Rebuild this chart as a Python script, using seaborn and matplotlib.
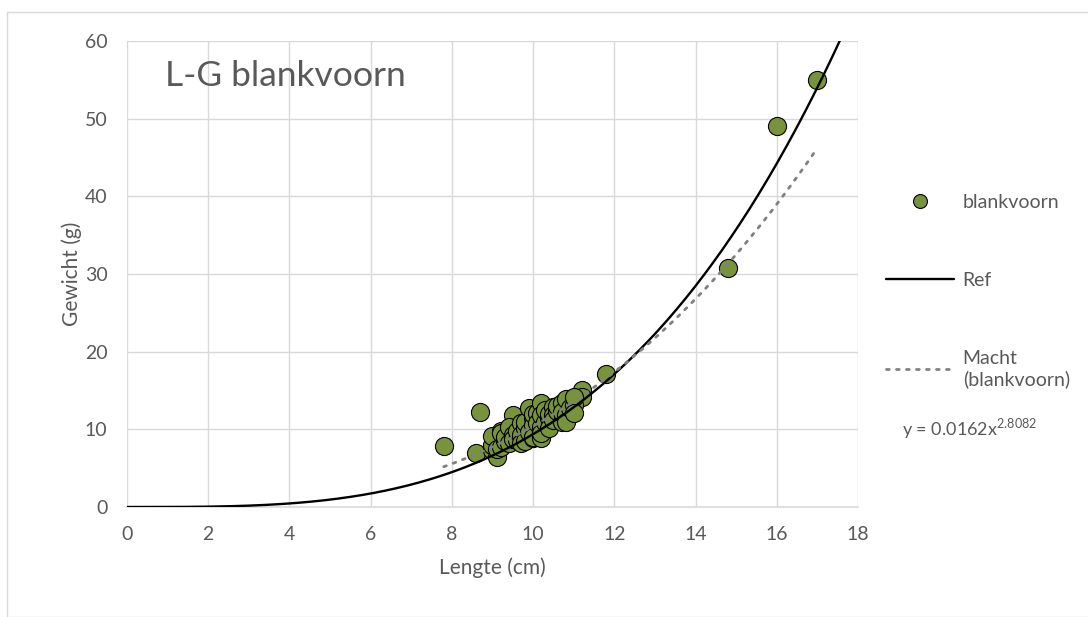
import numpy as np
import pandas as pd
import matplotlib
matplotlib.use("Agg")
import matplotlib.pyplot as plt
import seaborn as sns
from matplotlib.lines import Line2D
from matplotlib.patches import Rectangle

# ---- data ----
lengte = [7.8, 8.6, 8.7, 9.5, 11.8, 11.2, 11.2, 14.8, 16.0, 17.0,
          9.0, 9.0, 9.0, 9.1, 9.1, 9.2, 9.2, 9.2, 9.3, 9.3,
          9.4, 9.4, 9.5, 9.5, 9.6, 9.6, 9.7, 9.7, 9.7, 9.8,
          9.8, 9.8, 9.9, 9.9, 10.0, 10.0, 10.0, 10.0, 10.0, 10.1,
          10.1, 10.2, 10.2, 10.2, 10.2, 10.2, 10.3, 10.3, 10.4, 10.4,
          10.4, 10.5, 10.5, 10.5, 10.6, 10.6, 10.7, 10.7, 10.7, 10.8,
          10.8, 10.8, 10.9, 11.0, 11.0, 11.0]
gewicht = [7.9, 6.9, 12.2, 11.9, 17.1, 15.1, 14.1, 30.8, 49.0, 55.0,
           7.3, 8.0, 9.2, 6.4, 7.5, 7.7, 9.8, 9.5, 8.5, 9.0,
           10.3, 8.2, 9.3, 8.8, 8.6, 9.8, 10.8, 9.3, 8.2, 10.2,
           11.0, 8.5, 12.7, 9.6, 11.4, 8.9, 10.5, 12.0, 9.0, 12.1,
           10.8, 13.4, 10.3, 8.9, 11.8, 9.5, 11.0, 12.5, 11.4, 10.2,
           12.0, 12.9, 11.8, 11.2, 12.4, 13.0, 13.4, 10.9, 12.2, 13.9,
           11.8, 10.9, 12.8, 13.1, 14.2, 12.1]

ref_a, ref_b = 0.0047, 3.3          # reference length-weight relation
fit_a, fit_b = 0.0162, 2.8082       # power trendline (from chart label)

x_ticks = [0, 2, 4, 6, 8, 10, 12, 14, 16, 18]
y_ticks = [0, 10, 20, 30, 40, 50, 60]

df = pd.DataFrame({"Lengte": lengte, "Gewicht": gewicht})

# ---- style ----
sns.set_theme(style="white")
plt.rcParams["font.family"] = ["Lato", "DejaVu Sans"]
txt = "#595959"
grid = "#D9D9D9"
green = "#77933C"
dots = (0, (1, 2.6))

fig = plt.figure(figsize=(10.88, 6.17), dpi=100)
ax = fig.add_axes([127/1088, 1-507/617, (858-127)/1088, (507-41)/617])

sns.scatterplot(data=df, x="Lengte", y="Gewicht", ax=ax, color=green,
                edgecolor="black", linewidth=0.8, s=170, zorder=3,
                legend=False)

xr = np.linspace(0, 18, 400)
ax.plot(xr, ref_a * xr ** ref_b, color="black", lw=1.7, zorder=4)
xf = np.linspace(min(lengte), max(lengte), 200)
ax.plot(xf, fit_a * xf ** fit_b, color="#808080", lw=2.0,
        linestyle=dots, dash_capstyle="round", zorder=5)

ax.set_xlim(0, 18)
ax.set_ylim(0, 60)
ax.set_xticks(x_ticks)
ax.set_yticks(y_ticks)
ax.grid(True, color=grid, lw=1.0)
ax.set_axisbelow(True)
for s in ["top", "right", "left"]:
    ax.spines[s].set_visible(False)
ax.spines["bottom"].set_color(grid)
ax.spines["bottom"].set_linewidth(1.2)
ax.tick_params(axis="both", length=0, labelsize=14, colors=txt)
ax.tick_params(axis="x", pad=14)
ax.tick_params(axis="y", pad=14)
ax.set_xlabel("Lengte (cm)", fontsize=15, color=txt, labelpad=10)
ax.set_ylabel("Gewicht (g)", fontsize=15, color=txt)
ax.yaxis.set_label_coords((82 - 127) / 731, 0.5)

ax.text(0.052, 0.925, "L-G blankvoorn", transform=ax.transAxes,
        fontsize=25.5, color=txt, ha="left", va="center")

# legend
handles = [
    Line2D([], [], marker="o", color="none", markerfacecolor=green,
           markeredgecolor="black", markersize=10, markeredgewidth=0.8),
    Line2D([], [], color="black", lw=1.7),
    Line2D([], [], color="#808080", lw=2.0, linestyle=dots,
           dash_capstyle="round"),
]
labels = ["blankvoorn", "Ref", "Macht\n(blankvoorn)"]
leg = fig.legend(handles, labels, loc="upper left",
                 bbox_to_anchor=(880/1088, 1-188/617), frameon=False,
                 fontsize=14, labelspacing=3.15, handlelength=3.5,
                 handletextpad=0.45, labelcolor=txt, borderaxespad=0,
                 borderpad=0.3)
fig.text(902/1088, 1-429/617, r"y = 0.0162x$^{\mathregular{2.8082}}$",
         fontsize=13, color=txt, ha="left", va="center")

# chart area border
fig.patches.append(Rectangle((7/1088, 0.0), 1.2, 1-12/617,
                             transform=fig.transFigure, fill=False,
                             edgecolor=grid, lw=1.0))

fig.savefig("out.png", dpi=100, facecolor="white")
